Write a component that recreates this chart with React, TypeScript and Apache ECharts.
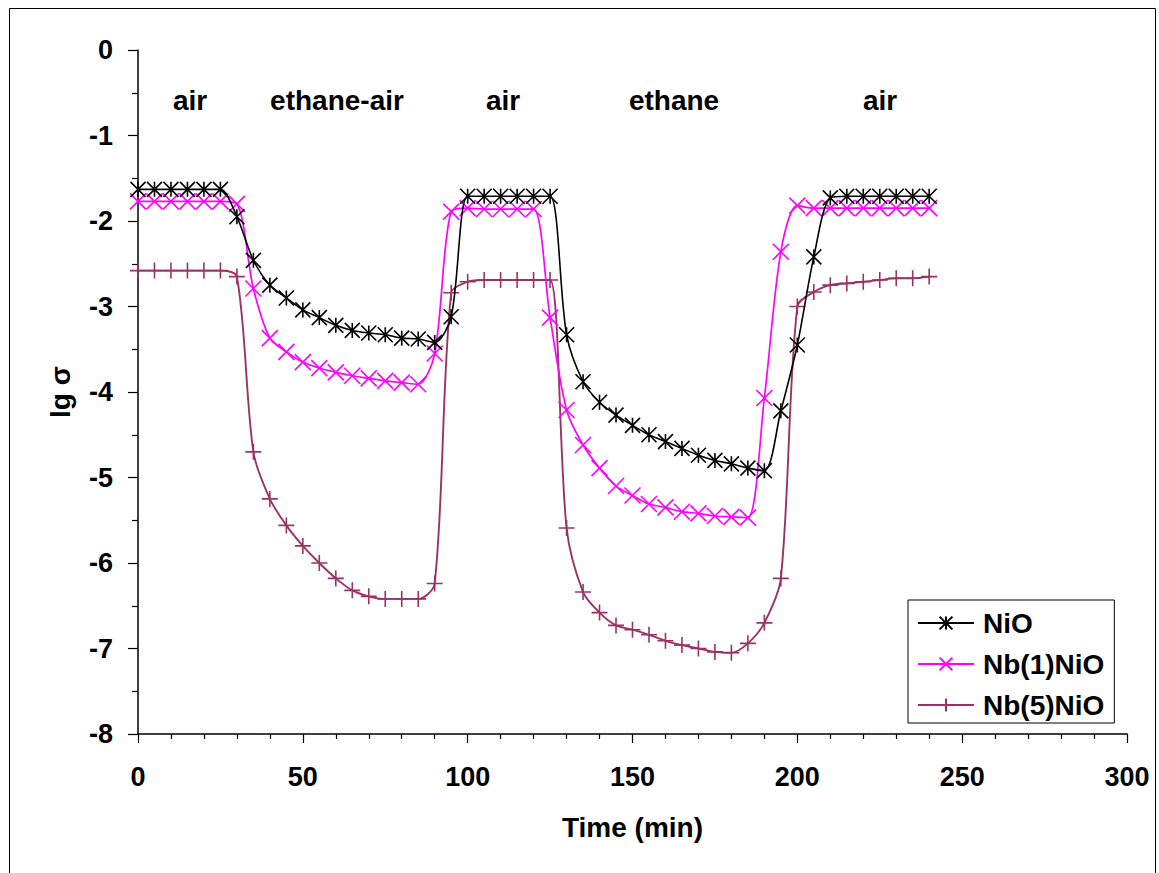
import React, { useEffect, useRef } from "react";
import * as echarts from "echarts";

const FONT = '"Liberation Sans", Arial, "DejaVu Sans", sans-serif';

const times = [
  0, 5, 10, 15, 20, 25, 30, 35, 40, 45, 50, 55, 60, 65, 70, 75, 80, 85, 90, 95,
  100, 105, 110, 115, 120, 125, 130, 135, 140, 145, 150, 155, 160, 165, 170, 175,
  180, 185, 190, 195, 200, 205, 210, 215, 220, 225, 230, 235, 240,
];

const nio = [
  -1.63, -1.63, -1.63, -1.63, -1.63, -1.63, -1.95, -2.46, -2.75, -2.9, -3.04,
  -3.13, -3.22, -3.28, -3.31, -3.33, -3.37, -3.38, -3.42, -3.12, -1.71, -1.71,
  -1.71, -1.71, -1.71, -1.71, -3.33, -3.88, -4.12, -4.27, -4.39, -4.5, -4.58,
  -4.66, -4.74, -4.8, -4.84, -4.89, -4.92, -4.22, -3.45, -2.42, -1.73, -1.71,
  -1.71, -1.71, -1.71, -1.71, -1.71,
];

const nb1 = [
  -1.77, -1.77, -1.77, -1.77, -1.77, -1.77, -1.8, -2.79, -3.37, -3.53, -3.65,
  -3.72, -3.77, -3.81, -3.84, -3.87, -3.89, -3.91, -3.55, -1.89, -1.85, -1.86,
  -1.86, -1.86, -1.86, -3.13, -4.21, -4.62, -4.89, -5.1, -5.21, -5.31, -5.35,
  -5.4, -5.42, -5.45, -5.46, -5.47, -4.07, -2.36, -1.82, -1.85, -1.85, -1.85,
  -1.85, -1.85, -1.85, -1.85, -1.85,
];

const nb5 = [
  -2.58, -2.58, -2.58, -2.58, -2.58, -2.58, -2.65, -4.7, -5.25, -5.56, -5.8,
  -6.0, -6.18, -6.32, -6.39, -6.42, -6.42, -6.42, -6.24, -2.84, -2.71, -2.69,
  -2.69, -2.69, -2.69, -2.69, -5.59, -6.34, -6.58, -6.73, -6.78, -6.84, -6.91,
  -6.96, -7.0, -7.04, -7.05, -6.94, -6.7, -6.18, -3.0, -2.83, -2.75, -2.73,
  -2.71, -2.69, -2.67, -2.67, -2.65,
];

const seriesNames = ["NiO", "Nb(1)NiO", "Nb(5)NiO"];
const seriesColors = ["#000000", "#FF00FF", "#993366"];

const phaseLabels = ["air", "ethane-air", "air", "ethane", "air"];
const phaseCenters = [190, 337, 503, 674, 880];

const STAR = "path://M0,0L10,10M10,0L0,10M5,0L5,10";
const CROSS = "path://M0,0L10,10M10,0L0,10";
const PLUS = "path://M5,0L5,10M0,5L10,5";

function pairs(ys: number[]) {
  return times.map((t, i) => [t, ys[i]]);
}

export default function App() {
  const ref = useRef<HTMLDivElement>(null);

  useEffect(() => {
    if (!ref.current) return;
    const chart = echarts.init(ref.current, undefined, { renderer: "svg" });
    const symbols = [STAR, CROSS, PLUS];
    const sizes = [15, 16, 16];
    const datasets = [nio, nb1, nb5];
    const lineWidths = [1.6, 1.7, 1.9];

    chart.setOption({
      animation: false,
      backgroundColor: "#ffffff",
      textStyle: { fontFamily: FONT },
      grid: { left: 138, top: 50, width: 989, height: 684, containLabel: false },
      xAxis: {
        type: "value",
        min: 0,
        max: 300,
        interval: 50,
        name: "Time (min)",
        nameLocation: "middle",
        nameGap: 79,
        nameTextStyle: { fontFamily: FONT, fontWeight: "bold", fontSize: 28, color: "#000" },
        axisLine: { show: true, onZero: false, lineStyle: { color: "#000", width: 1.5 } },
        axisTick: { show: true, inside: false, length: 9, lineStyle: { color: "#000", width: 1.2 } },
        minorTick: { show: true, splitNumber: 5, length: 5, lineStyle: { color: "#000", width: 1.2 } },
        axisLabel: { margin: 29, fontFamily: FONT, fontWeight: "bold", fontSize: 27, color: "#000" },
        splitLine: { show: false },
        minorSplitLine: { show: false },
      },
      yAxis: {
        type: "value",
        min: -8,
        max: 0,
        interval: 1,
        name: "lg σ",
        nameLocation: "middle",
        nameGap: 64,
        nameTextStyle: { fontFamily: FONT, fontWeight: "bold", fontSize: 28, color: "#000" },
        axisLine: { show: true, onZero: false, lineStyle: { color: "#000", width: 1.5 } },
        axisTick: { show: true, inside: false, length: 10, lineStyle: { color: "#000", width: 1.2 } },
        minorTick: { show: true, splitNumber: 2, length: 6, lineStyle: { color: "#000", width: 1.2 } },
        axisLabel: { margin: 25, fontFamily: FONT, fontWeight: "bold", fontSize: 27, color: "#000" },
        splitLine: { show: false },
        minorSplitLine: { show: false },
      },
      legend: {
        orient: "vertical",
        left: 908,
        top: 600,
        padding: [9, 10, 4, 9],
        itemWidth: 56,
        itemHeight: 16,
        itemGap: 13,
        backgroundColor: "#ffffff",
        borderColor: "#000000",
        borderWidth: 1,
        borderRadius: 0,
        textStyle: {
          fontFamily: FONT,
          fontWeight: "bold",
          fontSize: 28,
          color: "#000",
          lineHeight: 28,
          padding: [0, 0, 0, 4],
        },
        data: seriesNames,
      },
      graphic: [
        {
          type: "rect",
          silent: true,
          shape: { x: 9.5, y: 8.5, width: 1146, height: 880 },
          style: { fill: "none", stroke: "#000", lineWidth: 1 },
          z: -1,
        },
        ...phaseLabels.map((label, i) => ({
          type: "text",
          silent: true,
          x: phaseCenters[i],
          y: 100,
          style: {
            text: label,
            align: "center",
            verticalAlign: "middle",
            fontFamily: FONT,
            fontWeight: "bold",
            fontSize: 28,
            fill: "#000",
          },
        })),
      ],
      series: seriesNames.map((name, i) => ({
        name,
        type: "line",
        data: pairs(datasets[i]),
        smooth: 0.3,
        symbol: symbols[i],
        symbolSize: sizes[i],
        showSymbol: true,
        color: seriesColors[i],
        lineStyle: { color: seriesColors[i], width: lineWidths[i] },
        itemStyle: { color: "none", borderColor: seriesColors[i], borderWidth: 1.6 },
        emphasis: { disabled: true },
        z: 3 - i,
      })),
    });

    return () => {
      chart.dispose();
    };
  }, []);

  return (
    <div
      ref={ref}
      style={{ position: "fixed", left: 0, top: 0, width: 1159, height: 873, background: "#fff" }}
    />
  );
}
